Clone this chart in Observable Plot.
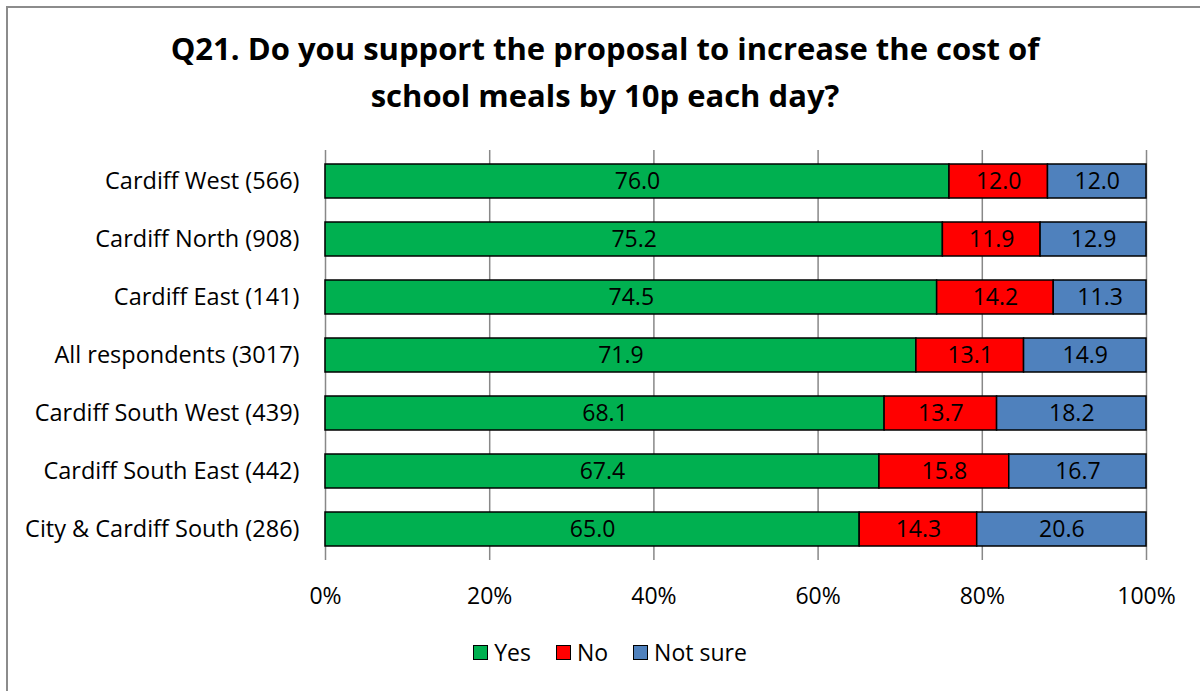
<!DOCTYPE html>
<html>
<head>
<meta charset="utf-8">
<script src="https://cdn.jsdelivr.net/npm/d3@7"></script>
<script src="https://cdn.jsdelivr.net/npm/@observablehq/plot@0.6"></script>
<style>
  html, body { margin: 0; padding: 0; background: #fff; }
  body { width: 1200px; height: 691px; position: relative; overflow: hidden; font-family: "Open Sans", sans-serif; }
  #frame { position: absolute; left: 6px; top: 6px; width: 1210px; height: 700px; border: 2px solid #8c8c8c; box-sizing: border-box; }
  #title { position: absolute; left: 0; width: 1210px; top: 25px; text-align: center; font-weight: bold; font-size: 31px; line-height: 47px; color: #000; }
  #chart { position: absolute; left: 0; top: 130px; }
  #legend { position: absolute; top: 636px; left: 0; width: 1220px; display: flex; justify-content: center; gap: 25px; font-size: 23px; color: #000; }
  #legend span.item { display: inline-flex; align-items: center; gap: 6px; }
  #legend span.sw { width: 13px; height: 13px; border: 1.5px solid #000; display: inline-block; }
</style>
</head>
<body>
<div id="frame"></div>
<div id="title">Q21. Do you support the proposal to increase the cost of<br>school meals by 10p each day?</div>
<div id="chart"></div>
<div id="legend"></div>
<script>
const regions = [
  "Cardiff West (566)",
  "Cardiff North (908)",
  "Cardiff East (141)",
  "All respondents (3017)",
  "Cardiff South West (439)",
  "Cardiff South East (442)",
  "City & Cardiff South (286)"
];
const answers = ["Yes", "No", "Not sure"];
const colors = ["#00B050", "#FF0000", "#4F81BD"];
const yesValues = [76.0, 75.2, 74.5, 71.9, 68.1, 67.4, 65.0];
const noValues = [12.0, 11.9, 14.2, 13.1, 13.7, 15.8, 14.3];
const notSureValues = [12.0, 12.9, 11.3, 14.9, 18.2, 16.7, 20.6];
const xTicks = [0, 0.2, 0.4, 0.6, 0.8, 1];

const seriesValues = [yesValues, noValues, notSureValues];
const data = [];
regions.forEach((r, i) => {
  answers.forEach((a, j) => {
    data.push({region: r, answer: a, value: seriesValues[j][i]});
  });
});

const stackOpts = {x: "value", y: "region", z: "answer", offset: "normalize"};

const chart = Plot.plot({
  width: 1200,
  height: 490,
  marginLeft: 325,
  marginRight: 54,
  marginTop: 20,
  marginBottom: 60,
  style: {fontFamily: "'Open Sans', sans-serif", fontSize: "23px", color: "#000", background: "transparent"},
  x: {domain: [0, 1], axis: null, label: null},
  y: {domain: regions, paddingInner: 0.42, paddingOuter: 0.21, axis: null, label: null},
  color: {domain: answers, range: colors},
  marks: [
    Plot.gridX(xTicks, {stroke: "#888", strokeOpacity: 1, strokeWidth: 1.5}),
    Plot.axisX(xTicks, {tickSize: 0, tickPadding: 27, tickFormat: d => Math.round(d * 100) + "%", fontSize: 23, label: null}),
    Plot.axisY({tickSize: 0, tickPadding: 26, fontSize: 23.5, textAnchor: "end", label: null}),
    Plot.barX(data, Plot.stackX({...stackOpts, fill: "answer", stroke: "#000", strokeWidth: 1.5})),
    Plot.text(data, Plot.stackX({...stackOpts, text: d => d.value.toFixed(1), fill: "#000", fontSize: 23}))
  ]
});
document.getElementById("chart").appendChild(chart);

const legend = document.getElementById("legend");
answers.forEach((a, i) => {
  const item = document.createElement("span");
  item.className = "item";
  const sw = document.createElement("span");
  sw.className = "sw";
  sw.style.background = colors[i];
  item.appendChild(sw);
  item.appendChild(document.createTextNode(a));
  legend.appendChild(item);
});
</script>
</body>
</html>
